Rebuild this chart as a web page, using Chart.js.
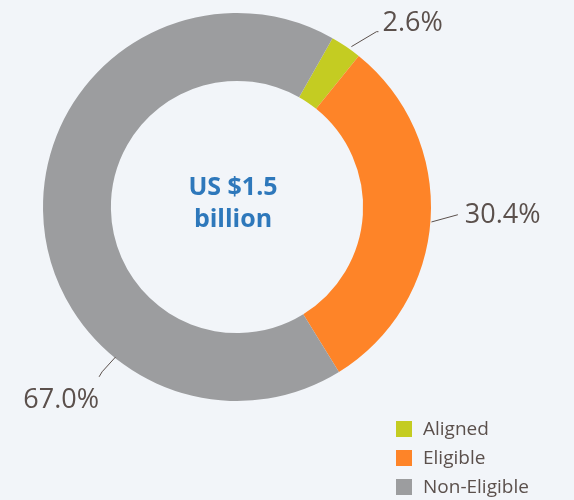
<!DOCTYPE html>
<html>
<head>
<meta charset="utf-8">
<script src="https://cdn.jsdelivr.net/npm/chart.js@4"></script>
<style>
  html, body { margin: 0; padding: 0; background: #f2f5f9; }
  #wrap { width: 574px; height: 500px; position: relative; }
</style>
</head>
<body>
<div id="wrap"><canvas id="share-chart" width="574" height="500"></canvas></div>
<script>
// ===============================
// DATA
// ===============================
const categories = ["Aligned", "Eligible", "Non-Eligible"];
const shares = [2.6, 30.4, 67.0];
const sliceColors = ["#c4cc22", "#fe8428", "#9c9d9f"];
const centerLines = ["US $1.5", "billion"];

const TEXT_COLOR = "#5b504c";
const FONT = "'Open Sans', 'Noto Sans', sans-serif";

// ===============================
// PLUGINS
// ===============================
function polar(arc, deg, r) {
    const a = (deg - 90) * Math.PI / 180;
    return [arc.x + Math.cos(a) * r, arc.y + Math.sin(a) * r];
}

// value labels with short leader lines outside the ring
const leaderLabels = {
    id: "leaderLabels",
    afterDatasetsDraw(chart, args, opts) {
        const { ctx } = chart;
        const meta = chart.getDatasetMeta(0);
        meta.data.forEach((arc, i) => {
            const cfg = opts.items[i];
            const [x0, y0] = polar(arc, cfg.from[0], arc.outerRadius + cfg.from[1]);
            const [x1, y1] = polar(arc, cfg.to[0], arc.outerRadius + cfg.to[1]);
            const x2 = x1 + cfg.tail[0], y2 = y1 + cfg.tail[1];

            ctx.save();
            ctx.strokeStyle = TEXT_COLOR;
            ctx.lineWidth = 1;
            ctx.beginPath();
            ctx.moveTo(x0, y0);
            ctx.lineTo(x1, y1);
            ctx.lineTo(x2, y2);
            ctx.stroke();

            ctx.fillStyle = TEXT_COLOR;
            ctx.font = `27px ${FONT}`;
            ctx.textBaseline = "middle";
            ctx.textAlign = cfg.align;
            const text = shares[i].toFixed(1) + "%";
            ctx.fillText(text, x2 + cfg.dx, y2 + cfg.dy);
            ctx.restore();
        });
    }
};

// total in the middle of the ring
const centerText = {
    id: "centerText",
    afterDatasetsDraw(chart) {
        const { ctx } = chart;
        const arc = chart.getDatasetMeta(0).data[0];
        ctx.save();
        ctx.fillStyle = "#2e78bb";
        ctx.font = `bold 25px ${FONT}`;
        ctx.textAlign = "center";
        ctx.textBaseline = "middle";
        centerLines.forEach((line, i) => {
            ctx.fillText(line, arc.x - 4, arc.y - 19 + i * 32);
        });
        ctx.restore();
    }
};

// square-marker legend, bottom right
const boxLegend = {
    id: "boxLegend",
    afterDraw(chart) {
        const { ctx } = chart;
        ctx.save();
        ctx.font = `19px ${FONT}`;
        ctx.textBaseline = "middle";
        categories.forEach((name, i) => {
            const y = 429 + i * 29;
            ctx.fillStyle = sliceColors[i];
            ctx.fillRect(396, y - 8, 16, 16);
            ctx.fillStyle = TEXT_COLOR;
            ctx.fillText(name, 423, y + 1);
        });
        ctx.restore();
    }
};

// ===============================
// CHART
// ===============================
new Chart(document.getElementById("share-chart"), {
    type: "doughnut",
    data: {
        labels: categories,
        datasets: [{
            data: shares,
            backgroundColor: sliceColors,
            borderWidth: 0
        }]
    },
    options: {
        responsive: false,
        animation: false,
        rotation: 29.5,
        cutout: "65%",
        layout: { padding: { left: 43, top: 13, right: 143, bottom: 99 } },
        plugins: {
            legend: { display: false },
            tooltip: { enabled: false },
            leaderLabels: {
                // from/to: [angle in degrees, distance past the outer edge]
                items: [
                    { from: [35.5, 3], to: [38.5, 30], tail: [2, 0], dx: 4, dy: -8, align: "left" },
                    { from: [94.4, 1], to: [92, 27], tail: [0, 0], dx: 7, dy: 1, align: "left" },
                    { from: [219, -1], to: [219.3, 19], tail: [-3, 5], dx: 0, dy: 23, align: "right" }
                ]
            }
        }
    },
    plugins: [leaderLabels, centerText, boxLegend]
});
</script>
</body>
</html>
